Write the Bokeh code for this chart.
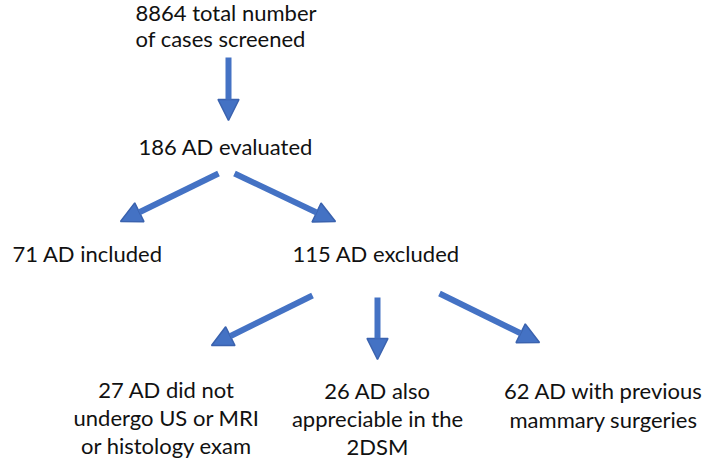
from bokeh.plotting import figure
from bokeh.models import ColumnDataSource, Range1d, Arrow, NormalHead
from bokeh.core.properties import value
from bokeh.embed import file_html
from bokeh.resources import INLINE

# ---- data (flowchart content) ----
node_ids = ["screened", "evaluated", "included", "excluded", "no_exam", "also_2dsm", "surgery"]
node_counts = [8864, 186, 71, 115, 27, 26, 62]
node_texts = [
    ["{} total number", "of cases screened"],
    ["{} AD evaluated"],
    ["{} AD included"],
    ["{} AD excluded"],
    ["{} AD did not", "undergo US or MRI", "or histology exam"],
    ["{} AD also", "appreciable in the", "2DSM"],
    ["{} AD with previous", "mammary surgeries"],
]
edges_from = ["screened", "evaluated", "evaluated", "excluded", "excluded", "excluded"]
edges_to = ["evaluated", "included", "excluded", "no_exam", "also_2dsm", "surgery"]

# ---- layout (reference pixel space, y downward) ----
node_pos = {  # anchor x, first baseline y, align, line step
    "screened": (135, 21, "left", 26),
    "evaluated": (138, 155, "left", 28),
    "included": (12, 262, "left", 28),
    "excluded": (292, 262, "left", 28),
    "no_exam": (166, 398, "center", 28),
    "also_2dsm": (377, 399, "center", 28),
    "surgery": (603, 399, "center", 29),
}
edge_geom = {  # start point, tip point
    ("screened", "evaluated"): ((228, 57), (228, 120)),
    ("evaluated", "included"): ((218, 173), (120, 221)),
    ("evaluated", "excluded"): ((234, 173), (335, 221)),
    ("excluded", "no_exam"): ((312, 295), (211, 345)),
    ("excluded", "also_2dsm"): ((377, 297), (377, 359)),
    ("excluded", "surgery"): ((439, 293), (539, 342)),
}

p = figure(width=706, height=460, output_backend="svg", toolbar_location=None,
           x_range=Range1d(0, 706), y_range=Range1d(460, 0),
           x_axis_location=None, y_axis_location=None,
           min_border=0, outline_line_color=None)
p.grid.visible = False
p.background_fill_color = "white"
p.border_fill_color = "white"

FONT = "Lato"
for nid, cnt, lines in zip(node_ids, node_counts, node_texts):
    x0, y0, align, step = node_pos[nid]
    xs, ys, ts = [], [], []
    for i, ln in enumerate(lines):
        xs.append(x0)
        ys.append(y0 + i * step)
        ts.append(ln.format(cnt))
    src = ColumnDataSource(dict(x=xs, y=ys, t=ts))
    p.text(x="x", y="y", text="t", source=src, text_font=value(FONT),
           text_font_size="22px", text_color="#111111",
           text_align=align, text_baseline="alphabetic", y_offset=-9)

xs0, ys0, xs1, ys1 = [], [], [], []
for a, b in zip(edges_from, edges_to):
    (sx, sy), (ex, ey) = edge_geom[(a, b)]
    xs0.append(sx); ys0.append(sy); xs1.append(ex); ys1.append(ey)
asrc = ColumnDataSource(dict(x0=xs0, y0=ys0, x1=xs1, y1=ys1))
p.add_layout(Arrow(source=asrc, x_start="x0", y_start="y0", x_end="x1", y_end="y1",
                   line_color="#4472C4", line_width=6,
                   end=NormalHead(size=21, fill_color="#4472C4",
                                  line_color="#3A62AE", line_width=1.5)))

open("out.html", "w").write(file_html(p, INLINE))
